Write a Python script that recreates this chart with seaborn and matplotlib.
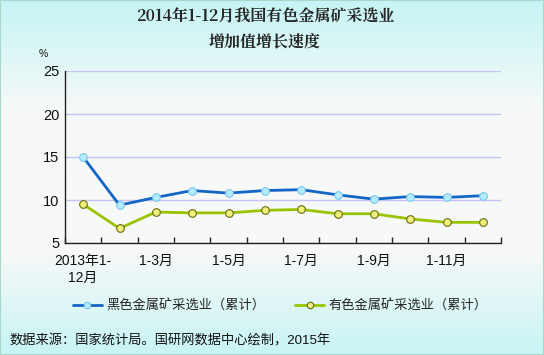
import numpy as np
import pandas as pd
import seaborn as sns
import matplotlib.pyplot as plt
from matplotlib.colors import LinearSegmentedColormap

# data
months = ['2013年1-12月', '1-2月', '1-3月', '1-4月', '1-5月', '1-6月',
          '1-7月', '1-8月', '1-9月', '1-10月', '1-11月', '1-12月']
ferrous = [15.0, 9.4, 10.3, 11.1, 10.8, 11.1, 11.2, 10.6, 10.1, 10.4, 10.3, 10.5]
nonferrous = [9.5, 6.7, 8.6, 8.5, 8.5, 8.8, 8.9, 8.4, 8.4, 7.8, 7.4, 7.4]
tick_labels = ['2013年1-\n12月', '', '1-3月', '', '1-5月', '', '1-7月', '', '1-9月', '', '1-11月', '']
yticks = [5, 10, 15, 20, 25]

sns.set_theme(style='white')
plt.rcParams['font.family'] = ['Liberation Sans', 'Noto Sans CJK SC', 'DejaVu Sans']

fig = plt.figure(figsize=(5.44, 3.55), dpi=100)

# gradient background
bg = fig.add_axes([0, 0, 1, 1], zorder=-10)
cmap = LinearSegmentedColormap.from_list('bg', ['#c6f4f4', '#f6f9f9', '#f8f8f8', '#c8f4f4'])
grad = np.concatenate([np.linspace(0, 0.33, 60), np.linspace(0.33, 0.66, 80), np.linspace(0.66, 1, 60)])
bg.imshow(grad.reshape(-1, 1), aspect='auto', cmap=cmap, extent=[0, 1, 0, 1], origin='upper')
bg.set_xlim(0, 1)
bg.set_ylim(0, 1)
bg.axis('off')
bg.add_patch(plt.Rectangle((0, 0), 1, 1, fill=False, edgecolor='#a8d8c8', lw=1.5,
                           transform=bg.transAxes))

ax = fig.add_axes([65 / 544, 1 - 243 / 355, 436 / 544, 172 / 355])
ax.set_facecolor('none')

df = pd.DataFrame({'x': np.arange(len(months)), 'ferrous': ferrous, 'nonferrous': nonferrous})

sns.lineplot(data=df, x='x', y='ferrous', ax=ax, color='#1466c6', lw=2,
             marker='o', markersize=5.5, markerfacecolor='#b4ecfc', markeredgecolor='#78c8ec',
             markeredgewidth=0.8, label='黑色金属矿采选业（累计）')
sns.lineplot(data=df, x='x', y='nonferrous', ax=ax, color='#99c400', lw=2,
             marker='o', markersize=5.5, markerfacecolor='#eef07a', markeredgecolor='#6a6a10',
             markeredgewidth=0.8, label='有色金属矿采选业（累计）')

ax.set_xlim(-0.5, len(months) - 0.5)
ax.set_ylim(5, 25)
ax.set_yticks(yticks)
ax.set_xticks(np.arange(len(months)))
ax.set_xticklabels(tick_labels, fontsize=10, color='#111111', linespacing=1.3)
ax.tick_params(axis='x', length=0, pad=8)
ax.tick_params(axis='y', length=0, labelsize=10.5, labelcolor='#111111', pad=4)
ax.set_xticks(np.arange(len(months) + 1) - 0.5, minor=True)
ax.tick_params(axis='x', which='minor', length=4, direction='in', color='#222222', bottom=True)
ax.grid(axis='y', color='#c4c4f4', lw=1)
ax.set_xlabel('')
ax.set_ylabel('')
for s in ['top', 'right']:
    ax.spines[s].set_visible(False)
for s in ['left', 'bottom']:
    ax.spines[s].set_color('#222222')
    ax.spines[s].set_linewidth(1)

leg = ax.legend(loc='upper left', bbox_to_anchor=(0.018, -0.33), ncol=2, frameon=False,
                fontsize=9.5, handlelength=2.2, columnspacing=2.3, handletextpad=0.3,
                markerscale=0.85, borderaxespad=0, borderpad=0)

fig.text(265 / 544, 1 - 17 / 355, '2014年1-12月我国有色金属矿采选业', ha='center', va='center',
         fontsize=11.5, fontweight='bold', family=['Noto Serif CJK SC', 'Noto Sans CJK SC'])
fig.text(265 / 544, 1 - 42 / 355, '增加值增长速度', ha='center', va='center',
         fontsize=11.5, fontweight='bold', family=['Noto Serif CJK SC', 'Noto Sans CJK SC'])
fig.text(43 / 544, 1 - 54 / 355, '%', ha='center', va='center', fontsize=7.5, color='#111111')
fig.text(9 / 544, 1 - 341 / 355, '数据来源：国家统计局。国研网数据中心绘制，2015年',
         ha='left', va='center', fontsize=9.5, color='#111111')

fig.savefig('out.png', dpi=100)
